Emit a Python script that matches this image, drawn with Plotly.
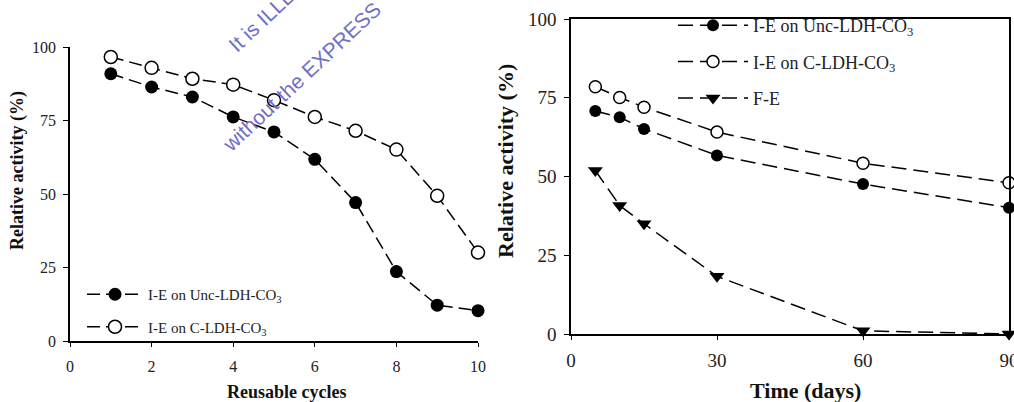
import plotly.graph_objects as go

W, H = 1014, 402

# ---- data: left panel (reusability) ----
cycles = [1, 2, 3, 4, 5, 6, 7, 8, 9, 10]
unc_cycles = [90.9, 86.4, 83.0, 76.2, 71.1, 61.8, 47.1, 23.6, 12.2, 10.3]
c_cycles = [96.6, 92.9, 89.2, 87.2, 81.9, 76.2, 71.5, 65.1, 49.4, 30.1]
left_xticks = [0, 2, 4, 6, 8, 10]
left_yticks = [0, 25, 50, 75, 100]

# ---- data: right panel (storage stability) ----
days = [5, 10, 15, 30, 60, 90]
unc_days = [70.8, 68.8, 65.1, 56.7, 47.6, 40.1]
c_days = [78.5, 75.1, 72.0, 64.1, 54.2, 48.0]
fe_days = [51.9, 40.8, 35.0, 18.3, 1.0, 0.0]
right_xticks = [0, 30, 60, 90]
right_yticks = [0, 25, 50, 75, 100]

name_unc = "I-E on Unc-LDH-CO<sub>3</sub>"
name_c = "I-E on C-LDH-CO<sub>3</sub>"
name_fe = "F-E"

SERIF = "Liberation Serif"


def px(x):
    return x / W


def py(y):
    return 1 - y / H


fig = go.Figure()

line_l = dict(color="black", width=1.5, dash="13px,6px")
line_r = dict(color="black", width=1.5, dash="15px,7px")

fig.add_trace(go.Scatter(x=cycles, y=unc_cycles, name=name_unc, mode="lines+markers",
                         line=line_l, marker=dict(symbol="circle", size=13, color="black"),
                         xaxis="x", yaxis="y", legend="legend", legendgroup="a", cliponaxis=False))
fig.add_trace(go.Scatter(x=cycles, y=c_cycles, name=name_c, mode="lines+markers",
                         line=line_l, marker=dict(symbol="circle", size=13, color="white",
                                                  line=dict(color="black", width=1.5)),
                         xaxis="x", yaxis="y", legend="legend", legendgroup="b", cliponaxis=False))

fig.add_trace(go.Scatter(x=days, y=unc_days, name=name_unc, mode="lines+markers",
                         line=line_r, marker=dict(symbol="circle", size=12, color="black"),
                         xaxis="x2", yaxis="y2", legend="legend2", legendgroup="c", cliponaxis=False))
fig.add_trace(go.Scatter(x=days, y=c_days, name=name_c, mode="lines+markers",
                         line=line_r, marker=dict(symbol="circle", size=12, color="white",
                                                  line=dict(color="black", width=1.5)),
                         xaxis="x2", yaxis="y2", legend="legend2", legendgroup="d", cliponaxis=False))
fig.add_trace(go.Scatter(x=days, y=fe_days, name=name_fe, mode="lines+markers",
                         line=line_r, marker=dict(symbol="triangle-down", size=13, color="black"),
                         xaxis="x2", yaxis="y2", legend="legend2", legendgroup="e", cliponaxis=False))

axis_common = dict(showgrid=False, zeroline=False, showline=True, linecolor="black",
                   linewidth=1.5, ticks="outside", tickcolor="black", tickwidth=1.2,
                   automargin=False, ticklabeloverflow="allow")

fig.update_layout(
    width=W, height=H,
    margin=dict(l=0, r=0, t=0, b=0, pad=0, autoexpand=False),
    paper_bgcolor="white", plot_bgcolor="white",
    xaxis=dict(domain=[px(70), px(478)], range=[0, 10], anchor="y",
               tickvals=left_xticks, ticktext=[str(v) for v in left_xticks],
               ticklen=4, ticklabelstandoff=6,
               tickfont=dict(family=SERIF, size=16, color="#222"), **axis_common),
    yaxis=dict(domain=[py(341), py(47)], range=[0, 100], anchor="x",
               tickvals=left_yticks, ticktext=[str(v) for v in left_yticks],
               ticklen=5, ticklabelstandoff=4,
               tickfont=dict(family=SERIF, size=16, color="#222"), **axis_common),
    xaxis2=dict(domain=[px(571), px(1009)], range=[0, 90], anchor="y2", mirror=True,
                tickvals=right_xticks, ticktext=[str(v) for v in right_xticks],
                ticklen=4, ticklabelstandoff=4,
                tickfont=dict(family=SERIF, size=19, color="#222"), **axis_common),
    yaxis2=dict(domain=[py(334), py(19)], range=[0, 100], anchor="x2", mirror=True,
                tickvals=right_yticks, ticktext=[str(v) for v in right_yticks],
                ticklen=5, ticklabelstandoff=4,
                tickfont=dict(family=SERIF, size=19, color="#222"), **axis_common),
    legend=dict(x=px(82), y=py(278), xanchor="left", yanchor="top",
                bgcolor="rgba(0,0,0,0)", borderwidth=0, itemwidth=56,
                tracegroupgap=10, font=dict(family=SERIF, size=15, color="#222")),
    legend2=dict(x=px(673), y=py(7), xanchor="left", yanchor="top",
                 bgcolor="rgba(0,0,0,0)", borderwidth=0, itemwidth=70,
                 tracegroupgap=10, font=dict(family=SERIF, size=18, color="#222")),
    showlegend=True,
)

annotations = [
    dict(text="<b>Relative activity (%)</b>", x=px(17), y=py(171), textangle=-90,
         font=dict(family=SERIF, size=18, color="#111")),
    dict(text="<b>Reusable cycles</b>", x=px(286), y=py(392),
         font=dict(family=SERIF, size=18, color="#111")),
    dict(text="<b>Relative activity (%)</b>", x=px(505), y=py(161), textangle=-90,
         font=dict(family=SERIF, size=22, color="#111")),
    dict(text="<b>Time (days)</b>", x=px(805), y=py(390),
         font=dict(family=SERIF, size=22, color="#111")),
    dict(text="It is ILLEGAL", x=px(277), y=py(5), textangle=-43,
         font=dict(family="Liberation Sans", size=21, color="#6f6fc8")),
    dict(text="without the EXPRESS", x=px(302), y=py(77), textangle=-43,
         font=dict(family="Liberation Sans", size=21, color="#6f6fc8")),
]
for a in annotations:
    a.update(xref="paper", yref="paper", showarrow=False, xanchor="center", yanchor="middle")
fig.update_layout(annotations=annotations)

fig.write_html("out.html")
